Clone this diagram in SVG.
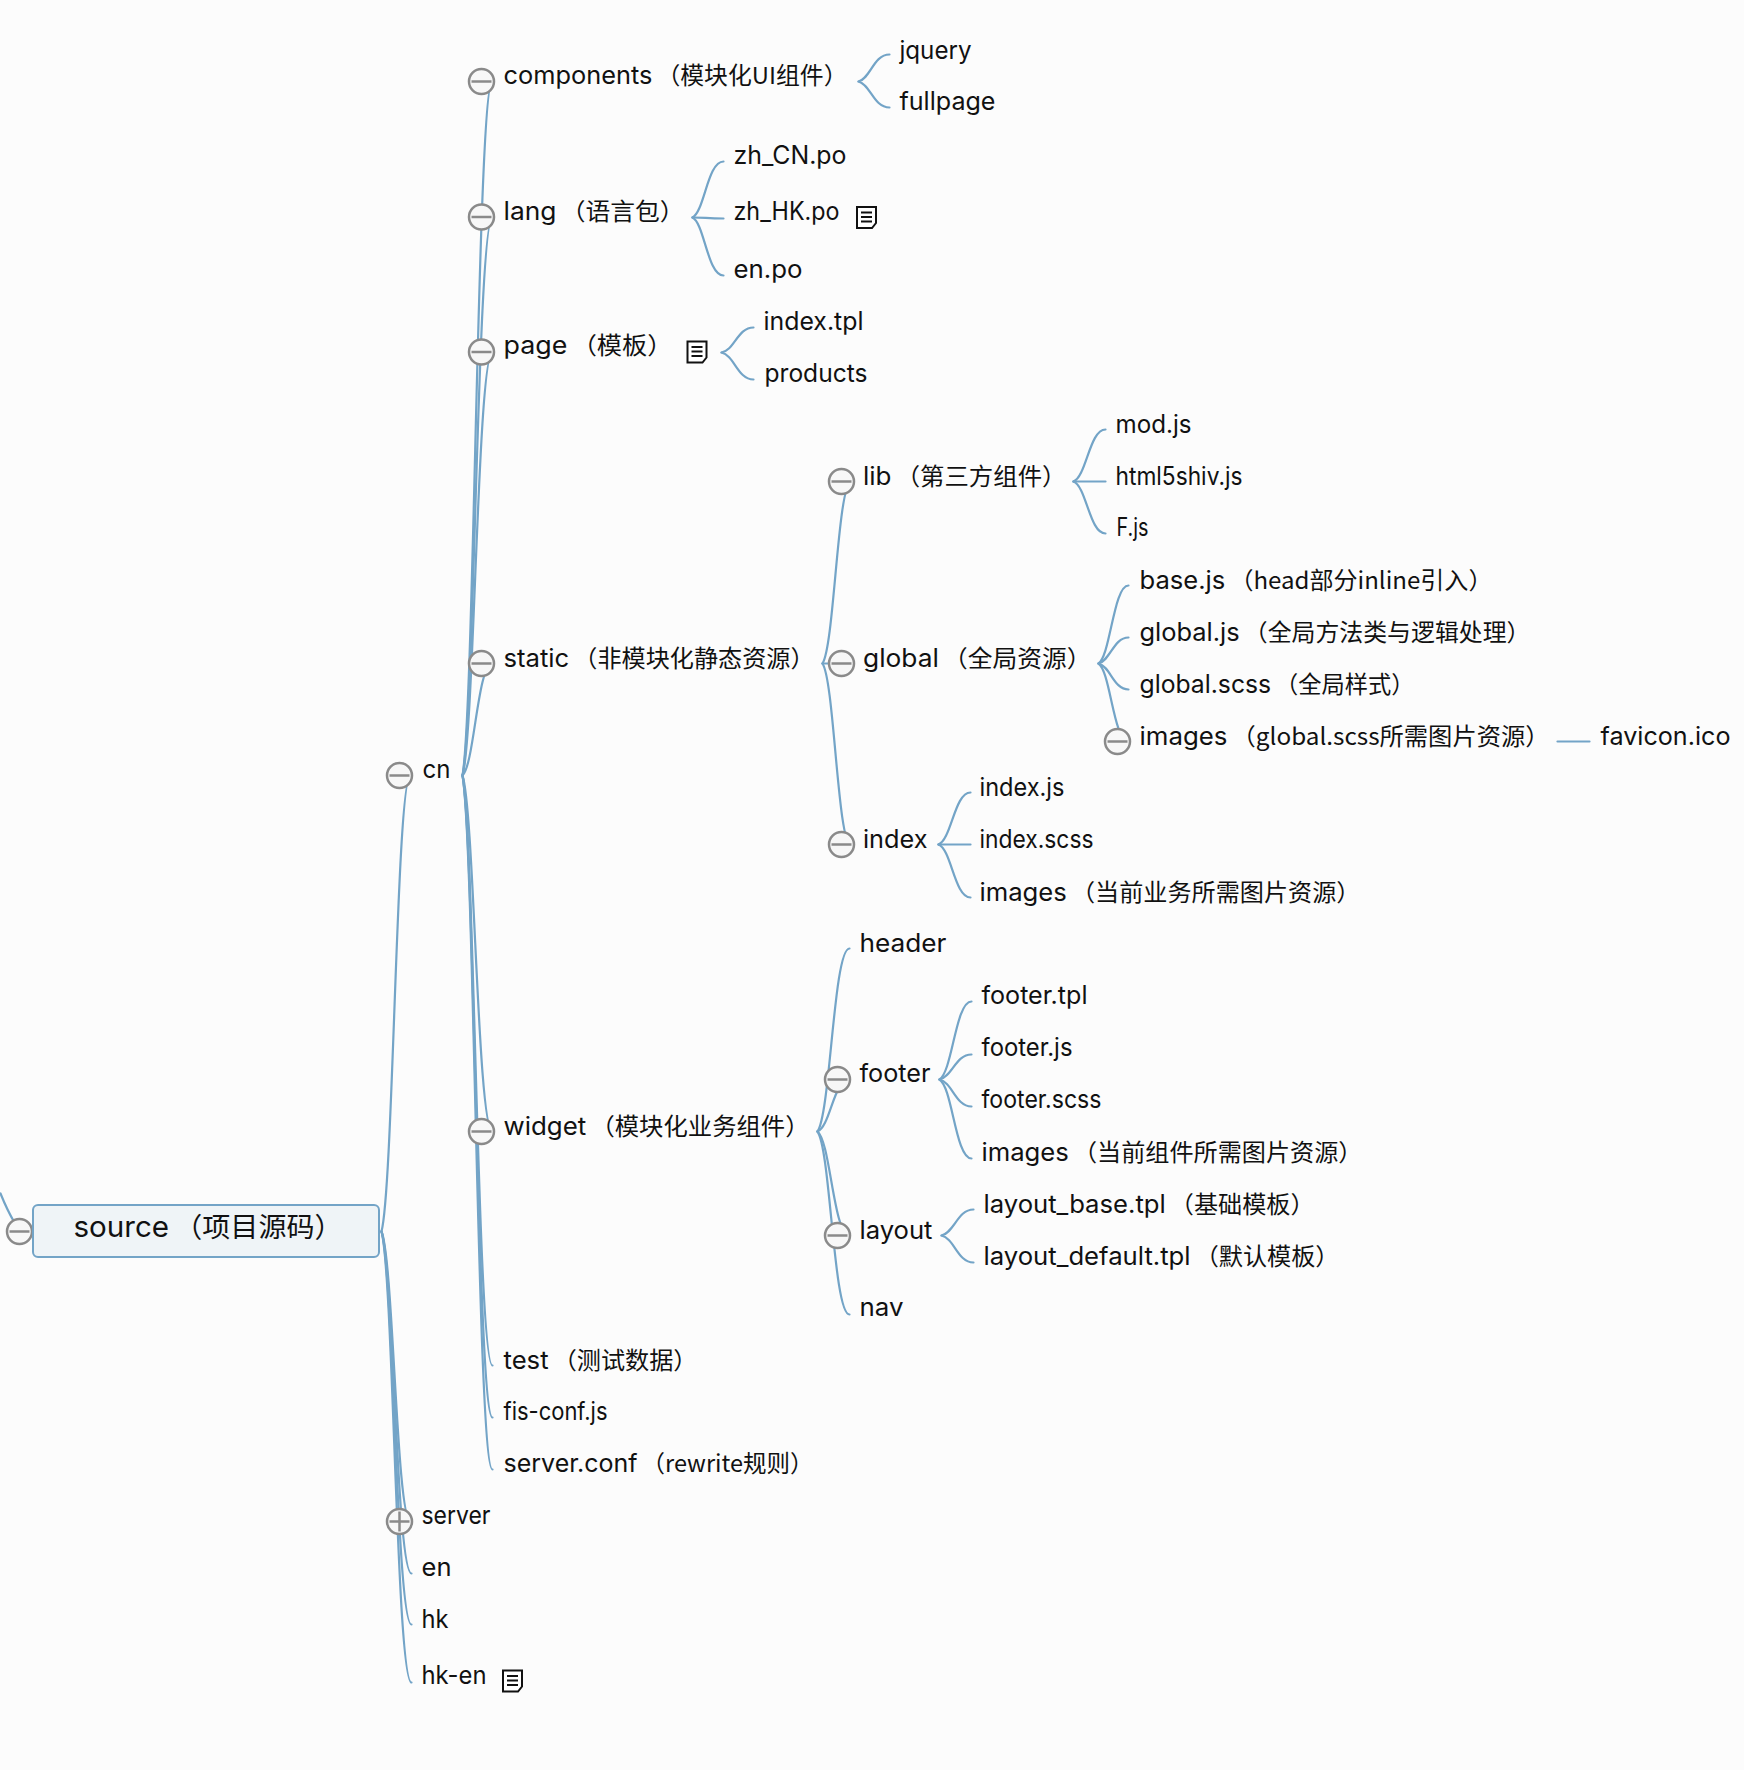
<svg xmlns="http://www.w3.org/2000/svg" width="1744" height="1770" viewBox="0 0 1744 1770">
<style>
svg > g{transform:translate(.5px,.5px)}
text{font-family:"Inter","Noto Sans CJK SC",sans-serif;font-size:25px;word-spacing:-3px;fill:#111;transform:translateY(.5px)}
.c{font-family:"Noto Sans CJK SC","Inter",sans-serif;font-size:23.5px}
.big{font-size:29px}
.big .c{font-size:27.5px}
#connectors path{fill:none;stroke:#73a4c7;stroke-width:2.2;stroke-linecap:round}
.toggle circle{fill:#f7f7f7;stroke:#8a8a8a;stroke-width:2.5}
.toggle path{fill:none;stroke:#8a8a8a;stroke-width:2.5}
.note path{fill:#fff;stroke:#111;stroke-width:2}
</style>
<defs>
<g id="minus" class="toggle"><circle r="12.5"/><path d="M-10 0H10"/></g>
<g id="plus" class="toggle"><circle r="12.5"/><path d="M-10 0H10M0-10V10"/></g>
<g id="noteIcon" class="note"><path d="M0 0H19V16L15 21H0Z"/><path d="M4 5.5H15M4 10H15M4 14.5H15"/></g>
</defs>
<rect width="1744" height="1770" fill="#fcfcfc"/>
<g id="connectors">
<path d="M0 1193C4 1203 8 1212 14 1222"/>
<path d="M381 1231C393 1185 396 775 410 775"/>
<path d="M381 1231C393 1260 396 1521 410 1521"/>
<path d="M381 1231C393 1265 396 1573 411 1573"/>
<path d="M381 1231C393 1270 396 1624 411 1624"/>
<path d="M381 1231C393 1276 396 1682 411 1682"/>
<path d="M462 775C474 706 477 81 492 81"/>
<path d="M462 775C474 719 477 217 492 217"/>
<path d="M462 775C474 733 477 352 492 352"/>
<path d="M462 775C474 764 477 663 492 663"/>
<path d="M462 775C474 811 477 1131 492 1131"/>
<path d="M462 775C474 834 477 1365 492 1365"/>
<path d="M462 775C474 839 477 1417 492 1417"/>
<path d="M462 775C474 844 477 1469 492 1469"/>
<path d="M858 81C870 78 873 54 889 54"/>
<path d="M858 81C870 84 873 107 889 107"/>
<path d="M692 217C704 211 707 161 723 161"/>
<path d="M692 217C704 217 707 218 723 218"/>
<path d="M692 217C704 223 707 275 723 275"/>
<path d="M721 352C734 350 737 327 753 327"/>
<path d="M721 352C734 355 737 379 753 379"/>
<path d="M822 663C834 645 837 481 851 481"/>
<path d="M822 663H851"/>
<path d="M822 663C834 681 837 846 851 846"/>
<path d="M1073 481C1086 476 1089 429 1105 429"/>
<path d="M1073 481H1105"/>
<path d="M1073 481C1086 486 1089 533 1105 533"/>
<path d="M1098 663C1110 655 1113 585 1128 585"/>
<path d="M1098 663C1110 660 1113 637 1128 637"/>
<path d="M1098 663C1110 666 1113 689 1128 689"/>
<path d="M1098 663C1110 671 1113 741 1128 741"/>
<path d="M1557 741H1589"/>
<path d="M938 844C951 839 954 792 970 792"/>
<path d="M938 844H970"/>
<path d="M938 844C951 849 954 897 970 897"/>
<path d="M817 1131C830 1113 833 948 849 948"/>
<path d="M817 1131C830 1126 833 1079 849 1079"/>
<path d="M817 1131C830 1141 833 1235 849 1235"/>
<path d="M817 1131C830 1149 833 1314 849 1314"/>
<path d="M939 1079C952 1071 955 1001 971 1001"/>
<path d="M939 1079C952 1076 955 1054 971 1054"/>
<path d="M939 1079C952 1082 955 1106 971 1106"/>
<path d="M939 1079C952 1087 955 1158 971 1158"/>
<path d="M941 1235C954 1232 957 1209 973 1209"/>
<path d="M941 1235C954 1238 957 1262 973 1262"/>
</g>
<g id="node-root-toggle"><use href="#minus" x="19" y="1231"/></g>
<g id="node-source"><rect x="32.5" y="1204.5" width="346" height="52" rx="5" fill="#eff4f7" stroke="#73a4c7" stroke-width="2"/><text class="big" x="73" y="1236" textLength="269" lengthAdjust="spacingAndGlyphs">source <tspan class="c">（项目源码）</tspan></text></g>
<g id="node-cn"><use href="#minus" x="399" y="775"/><text x="422" y="777" textLength="28" lengthAdjust="spacingAndGlyphs">cn</text></g>
<g id="node-components"><use href="#minus" x="481" y="81"/><text x="503" y="83" textLength="344" lengthAdjust="spacingAndGlyphs">components <tspan class="c">（模块化UI组件）</tspan></text></g>
<g id="node-jquery"><text x="899" y="57.5" textLength="72" lengthAdjust="spacingAndGlyphs">jquery</text></g>
<g id="node-fullpage"><text x="899" y="109" textLength="96" lengthAdjust="spacingAndGlyphs">fullpage</text></g>
<g id="node-lang"><use href="#minus" x="481" y="216.5"/><text x="503" y="219" textLength="181" lengthAdjust="spacingAndGlyphs">lang <tspan class="c">（语言包）</tspan></text></g>
<g id="node-zh-cn"><text x="733" y="163" textLength="113" lengthAdjust="spacingAndGlyphs">zh_CN.po</text></g>
<g id="node-zh-hk"><text x="733" y="219" textLength="106" lengthAdjust="spacingAndGlyphs">zh_HK.po</text><use href="#noteIcon" x="856.5" y="206.5"/></g>
<g id="node-en-po"><text x="733" y="277" textLength="69" lengthAdjust="spacingAndGlyphs">en.po</text></g>
<g id="node-page"><use href="#minus" x="481" y="351.5"/><text x="503" y="353" textLength="169" lengthAdjust="spacingAndGlyphs">page <tspan class="c">（模板）</tspan></text><use href="#noteIcon" x="687" y="341"/></g>
<g id="node-index-tpl"><text x="763" y="329" textLength="100" lengthAdjust="spacingAndGlyphs">index.tpl</text></g>
<g id="node-products"><text x="764" y="381" textLength="103" lengthAdjust="spacingAndGlyphs">products</text></g>
<g id="node-static"><use href="#minus" x="481" y="663"/><text x="503" y="666" textLength="311" lengthAdjust="spacingAndGlyphs">static <tspan class="c">（非模块化静态资源）</tspan></text></g>
<g id="node-lib"><use href="#minus" x="841" y="481"/><text x="862.5" y="483.5" textLength="203.5" lengthAdjust="spacingAndGlyphs">lib <tspan class="c">（第三方组件）</tspan></text></g>
<g id="node-mod"><text x="1115" y="432" textLength="76" lengthAdjust="spacingAndGlyphs">mod.js</text></g>
<g id="node-html5shiv"><text x="1115" y="484" textLength="127" lengthAdjust="spacingAndGlyphs">html5shiv.js</text></g>
<g id="node-f"><text x="1116" y="534.5" textLength="32" lengthAdjust="spacingAndGlyphs">F.js</text></g>
<g id="node-global"><use href="#minus" x="841" y="663"/><text x="862.5" y="665.5" textLength="228.5" lengthAdjust="spacingAndGlyphs">global <tspan class="c">（全局资源）</tspan></text></g>
<g id="node-base"><text x="1139" y="588" textLength="353" lengthAdjust="spacingAndGlyphs">base.js <tspan class="c">（head部分inline引入）</tspan></text></g>
<g id="node-global-js"><text x="1139" y="640" textLength="391" lengthAdjust="spacingAndGlyphs">global.js <tspan class="c">（全局方法类与逻辑处理）</tspan></text></g>
<g id="node-global-scss"><text x="1139" y="692" textLength="275" lengthAdjust="spacingAndGlyphs">global.scss <tspan class="c">（全局样式）</tspan></text></g>
<g id="node-images-global"><use href="#minus" x="1117" y="741"/><text x="1139" y="744" textLength="410" lengthAdjust="spacingAndGlyphs">images <tspan class="c">（global.scss所需图片资源）</tspan></text></g>
<g id="node-favicon"><text x="1600" y="744" textLength="130" lengthAdjust="spacingAndGlyphs">favicon.ico</text></g>
<g id="node-index"><use href="#minus" x="841" y="844"/><text x="862.5" y="847" textLength="64.5" lengthAdjust="spacingAndGlyphs">index</text></g>
<g id="node-index-js"><text x="979" y="795" textLength="85" lengthAdjust="spacingAndGlyphs">index.js</text></g>
<g id="node-index-scss"><text x="979" y="847" textLength="114" lengthAdjust="spacingAndGlyphs">index.scss</text></g>
<g id="node-images-index"><text x="979" y="900" textLength="381" lengthAdjust="spacingAndGlyphs">images <tspan class="c">（当前业务所需图片资源）</tspan></text></g>
<g id="node-widget"><use href="#minus" x="481" y="1131"/><text x="503" y="1134" textLength="306" lengthAdjust="spacingAndGlyphs">widget <tspan class="c">（模块化业务组件）</tspan></text></g>
<g id="node-header"><text x="859" y="951" textLength="87" lengthAdjust="spacingAndGlyphs">header</text></g>
<g id="node-footer"><use href="#minus" x="837" y="1079"/><text x="859" y="1081" textLength="71" lengthAdjust="spacingAndGlyphs">footer</text></g>
<g id="node-footer-tpl"><text x="981" y="1003" textLength="106" lengthAdjust="spacingAndGlyphs">footer.tpl</text></g>
<g id="node-footer-js"><text x="981" y="1055" textLength="91" lengthAdjust="spacingAndGlyphs">footer.js</text></g>
<g id="node-footer-scss"><text x="981" y="1107" textLength="120" lengthAdjust="spacingAndGlyphs">footer.scss</text></g>
<g id="node-images-footer"><text x="981" y="1160" textLength="381" lengthAdjust="spacingAndGlyphs">images <tspan class="c">（当前组件所需图片资源）</tspan></text></g>
<g id="node-layout"><use href="#minus" x="837" y="1235"/><text x="859" y="1238" textLength="73" lengthAdjust="spacingAndGlyphs">layout</text></g>
<g id="node-layout-base"><text x="983" y="1212" textLength="331" lengthAdjust="spacingAndGlyphs">layout_base.tpl <tspan class="c">（基础模板）</tspan></text></g>
<g id="node-layout-default"><text x="983" y="1264" textLength="356" lengthAdjust="spacingAndGlyphs">layout_default.tpl <tspan class="c">（默认模板）</tspan></text></g>
<g id="node-nav"><text x="859" y="1315" textLength="44" lengthAdjust="spacingAndGlyphs">nav</text></g>
<g id="node-test"><text x="503" y="1368" textLength="194" lengthAdjust="spacingAndGlyphs">test <tspan class="c">（测试数据）</tspan></text></g>
<g id="node-fis-conf"><text x="503" y="1419" textLength="104" lengthAdjust="spacingAndGlyphs">fis-conf.js</text></g>
<g id="node-server-conf"><text x="503" y="1471" textLength="310" lengthAdjust="spacingAndGlyphs">server.conf <tspan class="c">（rewrite规则）</tspan></text></g>
<g id="node-server"><use href="#plus" x="399" y="1521"/><text x="421" y="1523" textLength="69" lengthAdjust="spacingAndGlyphs">server</text></g>
<g id="node-en"><text x="421" y="1575" textLength="30" lengthAdjust="spacingAndGlyphs">en</text></g>
<g id="node-hk"><text x="421" y="1627" textLength="27" lengthAdjust="spacingAndGlyphs">hk</text></g>
<g id="node-hk-en"><text x="421" y="1683" textLength="65" lengthAdjust="spacingAndGlyphs">hk-en</text><use href="#noteIcon" x="502.5" y="1670"/></g>
</svg>
